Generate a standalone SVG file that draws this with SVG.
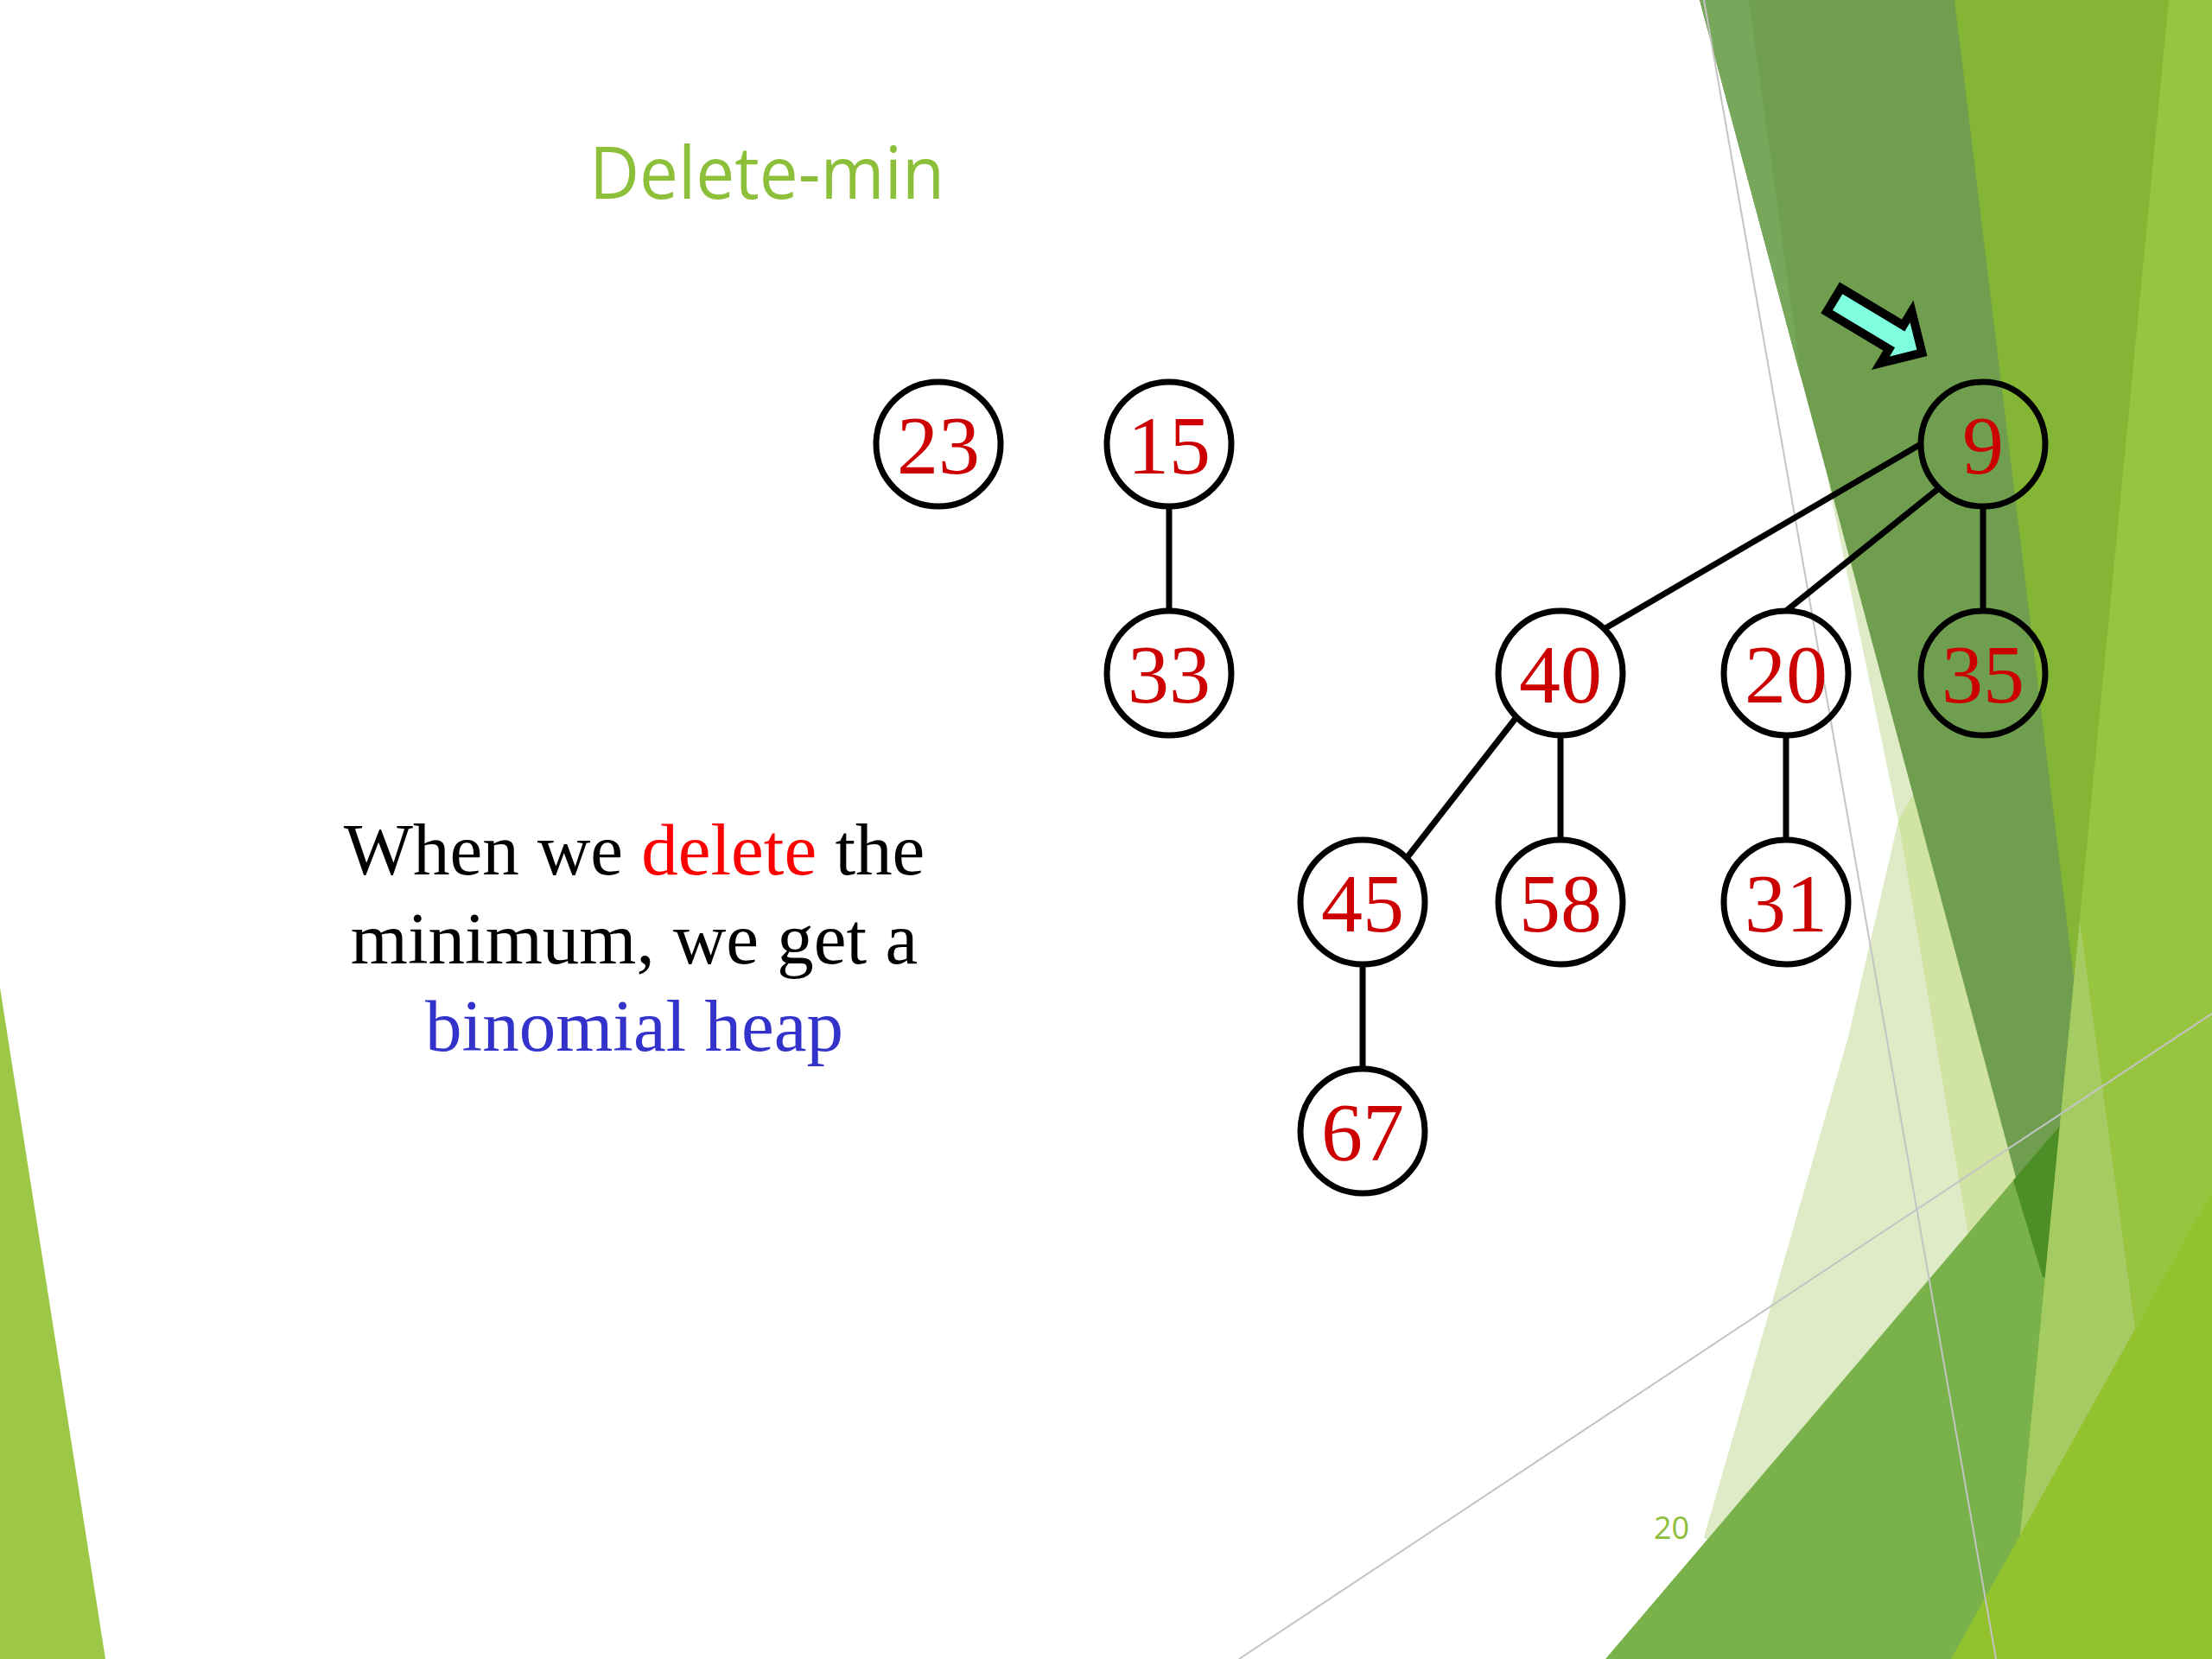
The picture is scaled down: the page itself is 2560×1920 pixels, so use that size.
<svg xmlns="http://www.w3.org/2000/svg" width="2560" height="1920" viewBox="0 0 2560 1920">
<style>
.node circle{fill:none;stroke:#000;stroke-width:7}
.node text{font-family:"Liberation Serif","Times New Roman",serif;font-size:96px;fill:#CC0000;text-anchor:middle}
.edge{stroke:#000;stroke-width:7;fill:none}
.gl{stroke:#C4C4C4;stroke-width:2;fill:none}
.body{font-family:"Liberation Serif","Times New Roman",serif;font-size:85px;fill:#000;text-anchor:middle}
</style>
<rect width="2560" height="1920" fill="#FFFFFF"/>
<g id="background">
<polygon points="0,1143 122,1920 0,1920" fill="#9DC746"/>
<polygon points="2116,559 2197,950 2139,1200 2052,1503 1972,1779 2000,1800 2340,1370 2200,700" fill="#DEEBC6"/>
<polygon points="2197,950 2280,1440 2345,1380 2225,900" fill="#D0E3A3"/>
<polygon points="1967,0 2560,0 2560,1300 2364,1478" fill="#6F9E4F"/>
<polygon points="1967,0 2024,0 2085,440" fill="#77A75B"/>
<polygon points="2262,0 2560,0 2560,800 2400,1132" fill="#85B535"/>
<polygon points="1858,1920 2383,1304 2450,1304 2400,1920" fill="#79B24A"/>
<polygon points="2330,1366 2383,1304 2400,1304 2380,1480 2364,1478" fill="#4E8E27"/>
<polygon points="2510,0 2560,0 2560,1920 2324,1920" fill="#98C540"/>
<polygon points="2407,1066 2471,1538 2338,1777" fill="#A5CC62"/>
<polygon points="2258,1920 2560,1379 2560,1920" fill="#93C22F"/>
<line class="gl" x1="1972" y1="0" x2="2310" y2="1920"/>
<line class="gl" x1="1434" y1="1920" x2="2560" y2="1173"/>
</g>
<text id="title" x="682" y="230" font-family="'Open Sans','Noto Sans',sans-serif" font-size="84" fill="#8DC03A" textLength="411" lengthAdjust="spacingAndGlyphs">Delete-min</text>
<text id="caption" class="body"><tspan x="734" y="1012">When we <tspan fill="#FF0000">delete</tspan> the</tspan><tspan x="734" y="1115">minimum, we get a</tspan><tspan x="734" y="1216" fill="#3333CC">binomial heap</tspan></text>
<text id="page" x="1914" y="1781" font-family="'Open Sans','Noto Sans',sans-serif" font-size="36" fill="#8DC03A">20</text>
<g id="connectors">
<line class="edge" x1="1353" y1="589" x2="1353" y2="704"/>
<line class="edge" x1="2223" y1="514" x2="1858" y2="727"/>
<line class="edge" x1="2244" y1="565" x2="2067" y2="707"/>
<line class="edge" x1="2295" y1="589" x2="2295" y2="704"/>
<line class="edge" x1="1755" y1="830" x2="1628" y2="993"/>
<line class="edge" x1="1806" y1="854" x2="1806" y2="969"/>
<line class="edge" x1="2067" y1="854" x2="2067" y2="969"/>
<line class="edge" x1="1577" y1="1119" x2="1577" y2="1234"/>
</g>
<g id="n23" class="node"><circle cx="1086" cy="514" r="72"/><text x="1086" y="548">23</text></g>
<g id="n15" class="node"><circle cx="1353" cy="514" r="72"/><text x="1353" y="548">15</text></g>
<g id="n33" class="node"><circle cx="1353" cy="779" r="72"/><text x="1353" y="813">33</text></g>
<g id="n9" class="node"><circle cx="2295" cy="514" r="72"/><text x="2295" y="548">9</text></g>
<g id="n40" class="node"><circle cx="1806" cy="779" r="72"/><text x="1806" y="813">40</text></g>
<g id="n20" class="node"><circle cx="2067" cy="779" r="72"/><text x="2067" y="813">20</text></g>
<g id="n35" class="node"><circle cx="2295" cy="779" r="72"/><text x="2295" y="813">35</text></g>
<g id="n45" class="node"><circle cx="1577" cy="1044" r="72"/><text x="1577" y="1078">45</text></g>
<g id="n58" class="node"><circle cx="1806" cy="1044" r="72"/><text x="1806" y="1078">58</text></g>
<g id="n31" class="node"><circle cx="2067" cy="1044" r="72"/><text x="2067" y="1078">31</text></g>
<g id="n67" class="node"><circle cx="1577" cy="1309" r="72"/><text x="1577" y="1343">67</text></g>
<g id="pointer"><polygon points="4,-16 88,-16 88,-35 123,0 88,35 88,16 4,16" transform="translate(2119,345) rotate(31)" fill="#80FFDF" stroke="#000" stroke-width="10" stroke-linejoin="miter"/></g>
</svg>
